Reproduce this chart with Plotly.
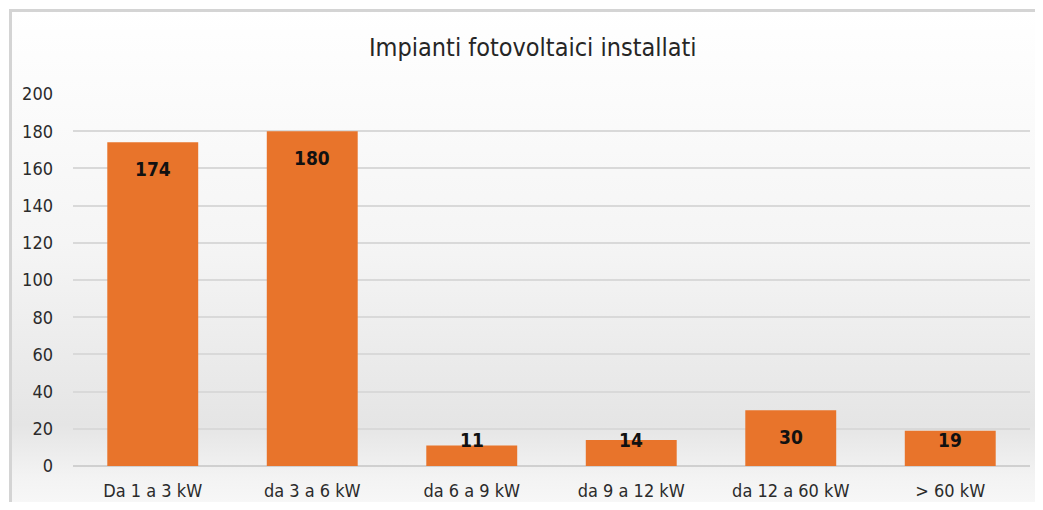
import base64
import plotly.graph_objects as go

# ---- data ----
categories = ["Da 1 a 3 kW", "da 3 a 6 kW", "da 6 a 9 kW", "da 9 a 12 kW", "da 12 a 60 kW", "> 60 kW"]
values = [174, 180, 11, 14, 30, 19]
y_ticks = [0, 20, 40, 60, 80, 100, 120, 140, 160, 180, 200]
title_text = "Impianti fotovoltaici installati"

FONT = "DejaVu Sans Condensed, Liberation Sans Narrow, Arial Narrow, Liberation Sans, sans-serif"
BAR = "#E8742B"

# background gradient (style only) as an SVG layout image
svg = (
    '<svg xmlns="http://www.w3.org/2000/svg" width="1100" height="520" preserveAspectRatio="none">'
    '<defs><linearGradient id="g" x1="0" y1="0" x2="0" y2="1">'
    '<stop offset="0" stop-color="#FFFFFF"/>'
    '<stop offset="0.45" stop-color="#F5F5F5"/>'
    '<stop offset="0.80" stop-color="#E5E5E5"/>'
    '<stop offset="0.90" stop-color="#F3F3F3"/>'
    '<stop offset="1" stop-color="#FBFBFB"/>'
    '</linearGradient></defs>'
    '<rect x="0" y="0" width="1100" height="520" fill="url(#g)"/>'
    '<path d="M1.5 520 L1.5 1.5 L1100 1.5" fill="none" stroke="#D4D4D4" stroke-width="3"/>'
    '</svg>'
)
svg_uri = "data:image/svg+xml;base64," + base64.b64encode(svg.encode()).decode()

fig = go.Figure()
fig.add_trace(go.Bar(
    x=categories, y=values,
    marker=dict(color=BAR, line=dict(width=0)),
    width=0.57,
    hoverinfo="x+y",
))

# data labels (inside end, clamped for small bars like the original)
for c, v in zip(categories, values):
    fig.add_annotation(
        x=c, y=max(v, 28.5), yshift=-27, text=f"<b>{v}</b>",
        showarrow=False, font=dict(family=FONT, size=19, color="#111111"),
        xanchor="center", yanchor="middle",
    )

fig.update_layout(
    width=1027, height=494,
    margin=dict(l=65, r=5, t=86, b=36),
    paper_bgcolor="white", plot_bgcolor="rgba(0,0,0,0)",
    title=dict(text=title_text, x=0.511, xanchor="center", y=0.921, yanchor="middle",
               font=dict(family=FONT, size=25, color="#262626")),
    showlegend=False,
    images=[dict(source=svg_uri, xref="paper", yref="paper",
                 x=-0.0669, y=1.2285, sizex=1100 / 957, sizey=520 / 372,
                 xanchor="left", yanchor="top", sizing="stretch", layer="below")],
    xaxis=dict(
        tickfont=dict(family=FONT, size=18, color="#2B2B2B"),
        showgrid=False, showline=False, ticks="", zeroline=False,
        ticklabelstandoff=12, automargin=False,
    ),
    yaxis=dict(
        range=[0, 200], tickvals=y_ticks,
        tickfont=dict(family=FONT, size=18, color="#2B2B2B"),
        showgrid=True, gridcolor="#D9D9D9", gridwidth=1.5,
        zeroline=True, zerolinecolor="#D0D0D0", zerolinewidth=1.5,
        showline=False, ticks="", ticklabelstandoff=19, automargin=False,
    ),
)

fig.write_html("out.html")
